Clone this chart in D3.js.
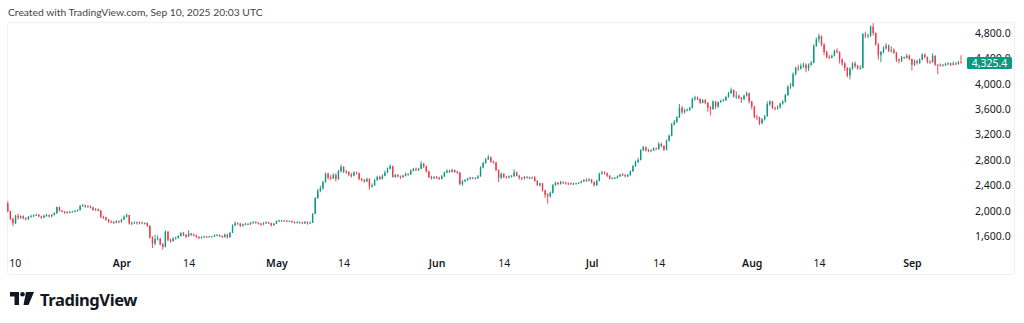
<!DOCTYPE html>
<html><head><meta charset="utf-8">
<script src="https://cdn.jsdelivr.net/npm/d3@7"></script>
<style>
html,body{margin:0;padding:0;background:#fff;}
svg{display:block;font-family:"Lato","Noto Sans",sans-serif;}
</style></head><body>
<svg id="chart" width="1024" height="323"></svg>
<script>
// ---- data (12h candles, ETHUSD) ----
const startTime = "2025-03-10T00:00:00Z";
const barHours = 12;
const firstOpen = 2110;
const closes = [
1990,1870,1800,1920,1890,1910,1880,1865,1900,1910,1925,1935,1910,1890,
1920,1930,1910,1935,1960,2055,2000,1985,1975,1965,1980,1985,1995,2010,
2070,2080,2060,2070,2050,2010,2020,2000,1900,1895,1860,1830,1820,1810,
1830,1820,1860,1905,1930,1795,1810,1815,1800,1815,1800,1805,1760,1580,
1480,1550,1560,1470,1430,1670,1540,1520,1560,1570,1600,1645,1620,1590,
1640,1620,1610,1585,1570,1580,1590,1585,1590,1590,1610,1615,1600,1585,
1620,1580,1650,1765,1800,1795,1760,1785,1790,1785,1805,1820,1810,1795,
1780,1800,1815,1800,1770,1795,1830,1840,1835,1845,1830,1835,1820,1810,
1815,1815,1800,1820,1800,1810,1950,2200,2310,2350,2450,2580,2520,2510,
2560,2500,2620,2690,2610,2610,2570,2550,2600,2590,2500,2480,2460,2500,
2380,2400,2480,2530,2500,2550,2600,2660,2700,2530,2560,2540,2530,2550,
2580,2570,2630,2660,2640,2660,2740,2700,2620,2530,2510,2530,2520,2500,
2540,2600,2630,2610,2640,2610,2600,2420,2460,2480,2500,2520,2510,2510,
2540,2680,2750,2810,2840,2770,2760,2640,2520,2580,2530,2520,2540,2540,
2600,2550,2520,2510,2530,2525,2510,2520,2470,2400,2430,2320,2250,2230,
2280,2400,2440,2420,2450,2440,2430,2420,2430,2420,2430,2440,2460,2480,
2470,2490,2450,2400,2470,2580,2600,2590,2550,2510,2510,2515,2540,2570,
2560,2540,2560,2620,2700,2770,2800,2950,3000,2950,2940,2950,2980,2970,
3050,3020,2960,3100,3180,3360,3400,3470,3620,3550,3580,3590,3620,3760,
3780,3760,3700,3740,3700,3620,3600,3720,3640,3710,3730,3740,3790,3850,
3900,3800,3810,3780,3760,3810,3850,3720,3640,3480,3470,3380,3440,3490,
3680,3720,3620,3610,3630,3690,3720,3820,3950,3960,4150,4250,4240,4280,
4300,4240,4300,4330,4600,4700,4750,4620,4500,4420,4410,4440,4520,4500,
4380,4320,4250,4130,4240,4320,4280,4250,4250,4780,4760,4760,4900,4800,
4620,4450,4500,4560,4600,4520,4530,4490,4380,4360,4420,4410,4440,4390,
4300,4360,4330,4380,4460,4420,4350,4340,4440,4300,4290,4300,4290,4310,
4320,4300,4320,4310,4340,4325.4
];
const highs = [
2150,2000,1885,1935,1950,1925,1925,1900,1915,1935,1940,1950,1945,1920,
1935,1950,1940,1945,1975,2065,2065,2010,1995,1990,1995,1995,2010,2020,
2090,2105,2095,2085,2080,2060,2040,2035,2010,1920,1905,1870,1845,1835,
1850,1850,1870,1925,1955,1935,1825,1830,1830,1830,1825,1815,1815,1770,
1595,1620,1610,1570,1490,1690,1675,1560,1580,1590,1615,1660,1665,1630,
1690,1650,1640,1620,1595,1595,1605,1600,1600,1600,1625,1630,1625,1610,
1640,1635,1665,1785,1830,1815,1805,1795,1810,1805,1820,1830,1835,1820,
1805,1820,1830,1825,1810,1805,1845,1860,1855,1855,1850,1845,1845,1830,
1830,1830,1825,1835,1830,1830,1960,2210,2340,2390,2470,2600,2600,2560,
2590,2590,2640,2725,2700,2640,2620,2590,2620,2615,2600,2515,2500,2520,
2510,2430,2500,2550,2550,2570,2630,2680,2730,2710,2580,2575,2555,2565,
2600,2590,2650,2670,2680,2675,2780,2750,2710,2630,2550,2545,2545,2535,
2560,2615,2650,2645,2660,2650,2630,2610,2480,2500,2520,2535,2530,2525,
2560,2700,2770,2830,2880,2855,2790,2770,2650,2600,2590,2545,2555,2560,
2650,2620,2560,2530,2545,2545,2535,2535,2545,2480,2440,2435,2330,2280,
2300,2420,2460,2450,2470,2460,2455,2445,2445,2440,2440,2450,2475,2500,
2510,2510,2500,2460,2490,2600,2630,2620,2600,2560,2525,2530,2555,2580,
2590,2575,2580,2630,2720,2790,2830,2970,3020,3010,2970,2965,3000,2995,
3080,3070,3030,3120,3200,3380,3430,3490,3680,3650,3610,3610,3640,3780,
3810,3800,3770,3760,3760,3710,3650,3740,3730,3720,3750,3760,3810,3870,
3940,3910,3880,3830,3790,3830,3880,3860,3730,3650,3510,3480,3460,3510,
3720,3740,3730,3640,3660,3700,3740,3840,3980,4010,4180,4270,4300,4320,
4330,4320,4320,4360,4620,4730,4790,4760,4640,4520,4450,4460,4540,4560,
4510,4400,4340,4260,4260,4340,4350,4300,4290,4800,4820,4790,4920,4955,
4810,4640,4520,4590,4640,4620,4590,4560,4500,4400,4440,4430,4470,4460,
4400,4380,4380,4400,4480,4475,4430,4370,4480,4450,4310,4320,4310,4330,
4340,4330,4350,4340,4360,4450
];
const lows = [
1975,1850,1755,1790,1860,1870,1860,1845,1855,1890,1900,1915,1895,1870,
1880,1905,1890,1895,1920,1950,1985,1970,1950,1950,1960,1970,1975,1985,
2000,2060,2045,2045,2035,2000,1995,1985,1880,1870,1840,1805,1800,1790,
1800,1800,1810,1850,1890,1780,1770,1790,1780,1785,1785,1780,1745,1555,
1410,1450,1530,1450,1385,1420,1520,1495,1510,1545,1560,1590,1600,1570,
1585,1600,1595,1570,1550,1555,1570,1575,1575,1580,1585,1600,1585,1570,
1575,1560,1575,1645,1755,1775,1740,1750,1770,1770,1775,1795,1795,1780,
1760,1770,1790,1785,1750,1760,1790,1820,1825,1825,1815,1820,1805,1795,
1800,1800,1785,1790,1780,1790,1805,1940,2180,2290,2330,2440,2490,2480,
2500,2460,2480,2600,2590,2580,2540,2520,2540,2570,2480,2460,2440,2450,
2330,2360,2390,2470,2480,2490,2540,2590,2650,2520,2520,2525,2500,2515,
2540,2550,2560,2615,2620,2625,2650,2670,2600,2510,2490,2500,2500,2485,
2490,2530,2590,2595,2600,2595,2580,2400,2390,2450,2470,2490,2495,2495,
2500,2535,2665,2740,2800,2755,2740,2620,2450,2500,2510,2505,2510,2525,
2535,2540,2490,2480,2490,2505,2495,2500,2455,2390,2380,2300,2200,2110,
2200,2270,2390,2400,2410,2420,2410,2400,2405,2400,2410,2420,2430,2450,
2455,2460,2430,2380,2390,2460,2570,2570,2530,2490,2495,2500,2505,2530,
2545,2525,2530,2550,2610,2690,2750,2790,2940,2930,2920,2925,2940,2955,
2960,3000,2940,2950,3090,3170,3340,3380,3460,3520,3530,3565,3570,3610,
3730,3740,3680,3690,3680,3560,3500,3590,3600,3620,3700,3720,3730,3780,
3840,3780,3760,3760,3700,3740,3800,3690,3600,3460,3430,3350,3360,3420,
3480,3650,3600,3580,3590,3610,3670,3700,3810,3920,3950,4130,4200,4220,
4250,4180,4200,4280,4320,4580,4650,4590,4450,4400,4390,4400,4430,4480,
4320,4280,4200,4100,4070,4220,4250,4220,4220,4240,4720,4720,4740,4760,
4600,4380,4340,4480,4540,4500,4490,4470,4340,4320,4340,4390,4400,4370,
4210,4280,4300,4310,4370,4400,4320,4310,4330,4280,4150,4270,4270,4280,
4290,4280,4290,4290,4300,4320
];
const priceTicks = [1600,2000,2400,2800,3200,3600,4000,4400,4800];
const timeTickDates = ["2025-03-10","2025-04-01","2025-04-14","2025-05-01","2025-05-14","2025-06-01","2025-06-14","2025-07-01","2025-07-14","2025-08-01","2025-08-14","2025-09-01"];
const timeTickLabels = ["10","Apr","14","May","14","Jun","14","Jul","14","Aug","14","Sep"];
const lastPrice = 4325.4;
const headerText = "Created with TradingView.com, Sep 10, 2025 20:03 UTC";

// ---- build candles ----
const t0 = new Date(startTime).getTime();
const candles = closes.map((c, i) => {
  const o = i === 0 ? firstOpen : closes[i - 1];
  return {
    t: new Date(t0 + i * barHours * 3600e3),
    o, c,
    h: Math.max(highs[i], o, c),
    l: Math.min(lows[i], o, c)
  };
});

const svg = d3.select("#chart");
const UP = "#089981", DOWN = "#F23645";

const x = d3.scaleUtc()
  .domain([new Date(startTime), candles[candles.length - 1].t])
  .range([7.8, 961]);
const y = d3.scaleLinear().domain([1600, 4800]).range([236, 33]);

// header
svg.append("text").attr("x", 8).attr("y", 15.5)
  .attr("font-size", 10.3).attr("fill", "#444")
  .attr("font-family", "Lato, 'Noto Sans', sans-serif")
  .text(headerText);

// panel border
svg.append("rect").attr("x", 7.5).attr("y", 22.5).attr("width", 1007).attr("height", 252)
  .attr("rx", 3).attr("fill", "#fff").attr("stroke", "#eef0f3");

// candles
const bw = 1.4;
const g = svg.append("g");
g.selectAll("line.wick").data(candles).join("line")
  .attr("class", "wick")
  .attr("x1", d => x(d.t)).attr("x2", d => x(d.t))
  .attr("y1", d => y(d.h)).attr("y2", d => y(d.l))
  .attr("stroke", d => d.c >= d.o ? UP : DOWN).attr("stroke-width", 0.9);
g.selectAll("rect.body").data(candles).join("rect")
  .attr("class", "body")
  .attr("x", d => x(d.t) - bw / 2).attr("width", bw)
  .attr("y", d => y(Math.max(d.o, d.c)))
  .attr("height", d => Math.max(0.8, Math.abs(y(d.o) - y(d.c))))
  .attr("fill", d => d.c >= d.o ? UP : DOWN);

// price axis
const yAxis = d3.axisRight(y).tickValues(priceTicks).tickSize(0).tickPadding(5)
  .tickFormat(d3.format(",.1f"));
const ya = svg.append("g").attr("transform", "translate(970,0)").call(yAxis);
ya.select(".domain").remove();
ya.selectAll("text").attr("font-size", 10.5).attr("fill", "#131722")
  .attr("font-family", "'Noto Sans', sans-serif");

// last price badge (covers most of the 4,400 label, as in the reference)
const by = y(lastPrice);
svg.append("rect").attr("x", 967).attr("y", by - 6).attr("width", 45).attr("height", 12)
  .attr("rx", 1.5).attr("fill", UP);
svg.append("text").attr("x", 989.5).attr("y", by).attr("dy", "0.35em")
  .attr("text-anchor", "middle").attr("font-size", 10.5).attr("fill", "#fff")
  .attr("font-family", "'Noto Sans', sans-serif")
  .text(d3.format(",.1f")(lastPrice));

// time axis
const tDates = timeTickDates.map(s => new Date(s + "T00:00:00Z"));
const xAxis = d3.axisBottom(x).tickValues(tDates).tickSize(0).tickPadding(3)
  .tickFormat((d, i) => timeTickLabels[i]);
const xa = svg.append("g").attr("transform", "translate(0,257)").call(xAxis);
xa.select(".domain").remove();
xa.selectAll("text").attr("font-size", 10.5).attr("fill", "#131722")
  .attr("font-family", "'Noto Sans', sans-serif")
  .attr("font-weight", (d, i) => /^\d+$/.test(timeTickLabels[i]) ? 400 : 600);
xa.selectAll("text").filter((d, i) => i === 0).attr("text-anchor", "start").attr("dx", 1);

// TradingView logo
const logo = svg.append("g").attr("transform", "translate(10,292)");
logo.append("path").attr("d", "M0 0 H9 V13 H4.5 V4.5 H0 Z").attr("fill", "#131722");
logo.append("circle").attr("cx", 12.5).attr("cy", 2.3).attr("r", 2.3).attr("fill", "#131722");
logo.append("path").attr("d", "M16 0 H24 L18.5 13 H13.5 Z").attr("fill", "#131722");
svg.append("text").attr("x", 40).attr("y", 305.5)
  .attr("font-size", 16.5).attr("font-weight", 700).attr("fill", "#131722")
  .attr("font-family", "'Noto Sans', sans-serif").attr("letter-spacing", -0.4)
  .text("TradingView");
</script>
</body></html>
